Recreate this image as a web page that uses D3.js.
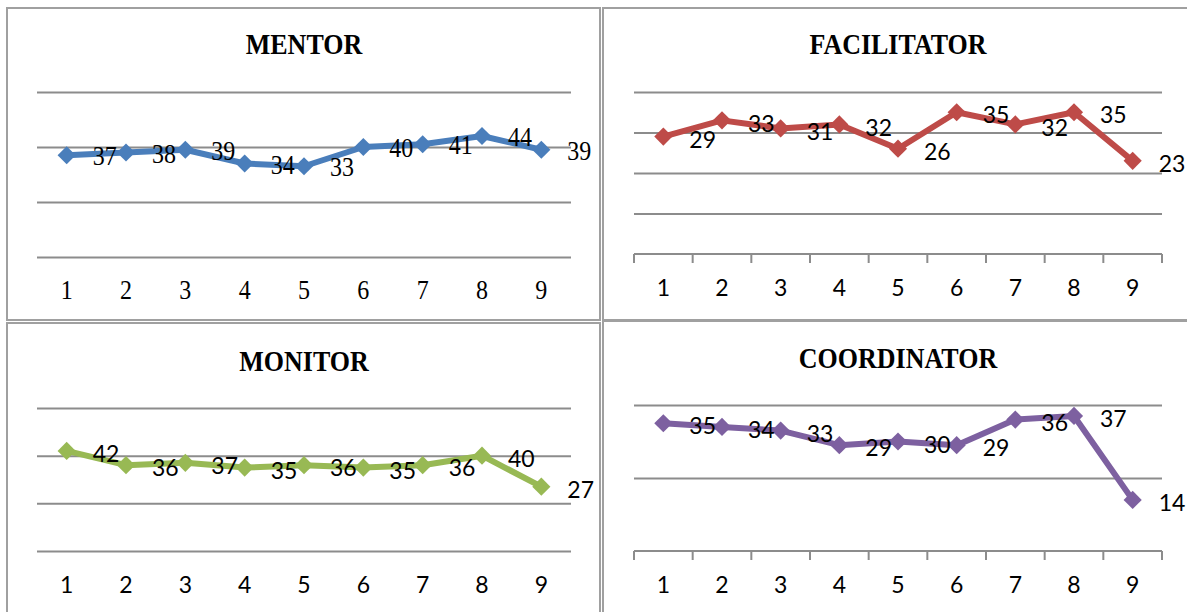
<!DOCTYPE html>
<html>
<head>
<meta charset="utf-8">
<script src="https://cdn.jsdelivr.net/npm/d3@7"></script>
<style>
  html, body { margin: 0; padding: 0; background: #ffffff; }
  svg { display: block; }
</style>
</head>
<body>
<svg id="chart" width="1187" height="612"></svg>
<script>
// Categories along the x axis (shared by all four panels)
const categories = ["1", "2", "3", "4", "5", "6", "7", "8", "9"];

// Series values, one array per role
const mentorValues      = [37, 38, 39, 34, 33, 40, 41, 44, 39];
const facilitatorValues = [29, 33, 31, 32, 26, 35, 32, 35, 23];
const monitorValues     = [42, 36, 37, 35, 36, 35, 36, 40, 27];
const coordinatorValues = [35, 34, 33, 29, 30, 29, 36, 37, 14];

// Gridline values for each panel's (hidden) value axis
const mentorTicks      = [0, 20, 40, 60];
const facilitatorTicks = [0, 10, 20, 30, 40];
const monitorTicks     = [0, 20, 40, 60];
const coordinatorTicks = [0, 20, 40];

// Panel titles
const titles = ["MENTOR", "FACILITATOR", "MONITOR", "COORDINATOR"];

const SERIF = "'Liberation Serif', 'Times New Roman', serif";
const SANS  = "Lato, 'Open Sans', 'Liberation Sans', sans-serif";

const panels = [
  { title: titles[0], values: mentorValues, ticks: mentorTicks, color: "#4A7EBB",
    frame: [7, 8, 593, 312], x: [37, 571], y: [257, 92], titleY: 44,
    labelFont: SERIF, labelSize: 24, labelStretch: 1.14, labelDy: 1, axisTicks: false },
  { title: titles[1], values: facilitatorValues, ticks: facilitatorTicks, color: "#BE4B48",
    frame: [603, 8, 600, 312], x: [634, 1162], y: [254, 92], titleY: 44,
    labelFont: SANS, labelSize: 23, labelStretch: 1.04, labelDy: 2, axisTicks: true },
  { title: titles[2], values: monitorValues, ticks: monitorTicks, color: "#98B954",
    frame: [7, 323, 593, 300], x: [37, 571], y: [551, 408], titleY: 361,
    labelFont: SANS, labelSize: 23, labelStretch: 1.04, labelDy: 2, axisTicks: false },
  { title: titles[3], values: coordinatorValues, ticks: coordinatorTicks, color: "#7D60A0",
    frame: [603, 321, 600, 300], x: [634, 1162], y: [551, 405], titleY: 358,
    labelFont: SANS, labelSize: 23, labelStretch: 1.04, labelDy: 2, axisTicks: true }
];

const TITLE_STRETCH = 1.12;

const svg = d3.select("#chart");

panels.forEach(p => {
  const g = svg.append("g");

  // panel frame
  g.append("rect")
    .attr("x", p.frame[0]).attr("y", p.frame[1])
    .attr("width", p.frame[2]).attr("height", p.frame[3])
    .attr("fill", "#ffffff")
    .attr("stroke", "#a0a0a0").attr("stroke-width", 2);

  const x = d3.scaleBand().domain(categories).range(p.x).padding(0);
  const y = d3.scaleLinear()
    .domain([0, d3.max(p.ticks)])
    .range(p.y);

  // title
  g.append("text")
    .attr("transform", `translate(${(p.x[0] + p.x[1]) / 2},${p.titleY}) scale(1,${TITLE_STRETCH})`)
    .attr("text-anchor", "middle")
    .attr("dominant-baseline", "central")
    .attr("font-family", SERIF)
    .attr("font-weight", "bold")
    .attr("font-size", 26)
    .attr("fill", "#000")
    .text(p.title);

  // horizontal gridlines
  const gridVals = p.axisTicks ? p.ticks.filter(t => t !== 0) : p.ticks;
  g.append("g")
    .attr("transform", `translate(${p.x[0]},0)`)
    .call(d3.axisLeft(y).tickValues(gridVals).tickSize(-(p.x[1] - p.x[0])).tickFormat(""))
    .call(a => a.select(".domain").remove())
    .call(a => a.selectAll(".tick line").attr("stroke", "#8c8c8c").attr("stroke-width", 2));

  // category axis
  const axis = g.append("g")
    .attr("transform", `translate(0,${y(0)})`)
    .call(d3.axisBottom(x).tickSize(0));
  axis.select(".domain").remove();
  axis.selectAll(".tick text")
    .attr("font-family", p.labelFont)
    .attr("font-size", p.labelSize)
    .attr("fill", "#000")
    .attr("dominant-baseline", "central")
    .attr("dy", 0)
    .attr("y", 0)
    .attr("transform", `translate(0,33) scale(1,${p.labelStretch})`);

  if (p.axisTicks) {
    g.append("line")
      .attr("x1", p.x[0]).attr("x2", p.x[1])
      .attr("y1", y(0)).attr("y2", y(0))
      .attr("stroke", "#8c8c8c").attr("stroke-width", 2);
    const bounds = categories.map(c => x(c)).concat([p.x[1]]);
    g.selectAll(".cat-tick").data(bounds).join("line")
      .attr("x1", d => d).attr("x2", d => d)
      .attr("y1", y(0)).attr("y2", y(0) + 9)
      .attr("stroke", "#8c8c8c").attr("stroke-width", 2);
  }

  const cx = (d, i) => x(categories[i]) + x.bandwidth() / 2;

  // series line
  g.append("path")
    .datum(p.values)
    .attr("fill", "none")
    .attr("stroke", p.color)
    .attr("stroke-width", 6)
    .attr("stroke-linejoin", "round")
    .attr("d", d3.line().x(cx).y(d => y(d)));

  // diamond markers
  g.selectAll(".marker").data(p.values).join("path")
    .attr("transform", (d, i) => `translate(${cx(d, i)},${y(d)}) rotate(45)`)
    .attr("d", d3.symbol().type(d3.symbolSquare).size(165))
    .attr("fill", p.color);

  // value labels, to the right of each point
  g.selectAll(".value").data(p.values).join("text")
    .attr("transform", (d, i) =>
      `translate(${cx(d, i) + 26},${y(d) + p.labelDy}) scale(1,${p.labelStretch})`)
    .attr("dominant-baseline", "central")
    .attr("font-family", p.labelFont)
    .attr("font-size", p.labelSize)
    .attr("fill", "#000")
    .text(d => d);
});
</script>
</body>
</html>
